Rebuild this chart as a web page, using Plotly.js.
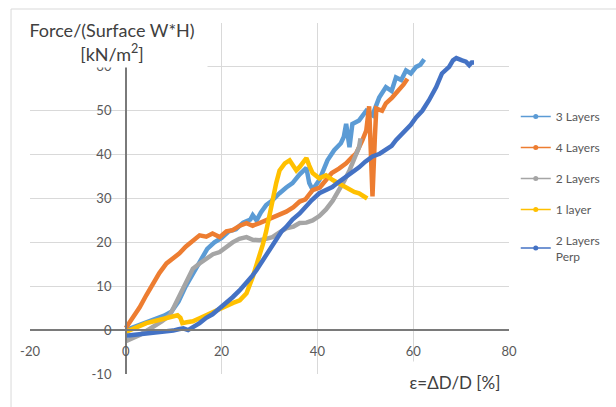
<!DOCTYPE html>
<html>
<head>
<meta charset="utf-8">
<script src="https://cdn.plot.ly/plotly-3.0.1.min.js"></script>
<style>html,body{margin:0;padding:0;background:#fff;}#chart{width:616px;height:407px;}</style>
</head>
<body>
<div id="chart"></div>
<script>
// ---- data ----
const seriesNames = ["3 Layers", "4 Layers", "2 Layers", "1 layer", "2 Layers<br>Perp"];

const x3L = [0, 2, 4, 6, 8, 9.5, 11, 12.5, 14, 15.5, 17, 18.5, 20, 21.5, 23, 24.5, 26, 26.5, 27.3, 28.2, 29.3, 30.5, 31.4, 32.1, 33.5, 34.8, 36.3, 37.7, 38.3, 39, 40.4, 41.2, 42.1, 43.5, 44.9, 45.5, 46, 46.7, 47.3, 48.7, 50.2, 51.5, 52.9, 54.3, 55.5, 56.4, 57.5, 58.5, 59.5, 60.6, 61.5, 62.3];
const y3L = [0, 0.8, 1.6, 2.5, 3.3, 4.2, 6.5, 10, 13, 16, 18.5, 20, 21, 22.5, 23, 24.5, 25.2, 26.2, 25, 26.8, 28.5, 29.5, 30.3, 31.2, 32.5, 33.5, 35.5, 37, 33.5, 32, 34.2, 36.5, 38.7, 41, 42.6, 44, 47, 41.7, 47, 47.8, 50, 49, 53, 55.4, 54.5, 57.6, 57, 59.2, 58.5, 60, 60.5, 61.7];

const x4L = [0, 1.5, 2.9, 4.3, 5.7, 7, 8.5, 10, 11.2, 12.5, 14, 15.4, 16.8, 18.1, 19.6, 21, 22.3, 23.8, 25.2, 26.5, 27.9, 29.2, 30.6, 32, 33.5, 35, 36.3, 37.5, 39, 40.5, 41.8, 43, 44.5, 46, 47.3, 48.1, 49.4, 50.2, 50.8, 51.2, 51.5, 52, 52.3, 53.5, 54.3, 55.6, 57, 58, 58.8];
const y4L = [0.5, 2.8, 5.2, 8, 10.6, 13, 15.2, 16.5, 17.5, 19, 20.5, 21.6, 21.3, 22, 21.2, 22.5, 22.8, 23.8, 24.4, 23.8, 24.4, 25, 25.5, 26.2, 27, 28, 29.3, 29.8, 31.9, 32.5, 34.2, 35.8, 36.8, 38, 39.5, 40.3, 43.3, 45.5, 51, 40, 30.5, 44, 50.5, 50, 51.7, 53, 54.7, 56, 57.3];

const x2L = [0, 1.5, 2.9, 4.3, 5.7, 7.5, 9.2, 10.6, 11.5, 12.7, 14, 15.4, 16.8, 18.2, 19.6, 21, 22.3, 23.7, 25.2, 26.5, 27.9, 29.3, 30.6, 32, 33.5, 35, 36.3, 37.7, 39, 40.4, 41.8, 43.2, 44.6, 45.6, 46.7, 47.7, 48.7, 49];
const y2L = [-2.5, -1.8, -1.1, -0.2, 0.7, 2, 3.4, 6.5, 9, 11.5, 14, 15.2, 16.2, 17.3, 17.8, 19, 20, 20.8, 21.2, 20.6, 20.5, 20.8, 21.2, 22.2, 23.2, 23.6, 24.4, 24.5, 25, 26, 27.5, 29.5, 31.9, 34, 36.4, 39, 41.7, 43.7];

const x1L = [0, 2, 4.3, 6.5, 8.5, 10, 10.8, 11.4, 11.8, 12.7, 14, 15.4, 16.8, 18.1, 19.5, 21, 22.4, 23.8, 25.2, 26.5, 27.9, 28.6, 29.3, 29.9, 30.7, 31.4, 32.1, 33.2, 34.2, 35, 35.6, 36.3, 36.9, 37.7, 38.3, 39, 40.4, 41.8, 43.2, 44.3, 45.3, 46.7, 47.7, 48.7, 49.6, 50.4];
const y1L = [-0.4, 0.5, 1.6, 2.2, 2.7, 3.1, 3.4, 2.8, 1.6, 1.8, 2, 2.7, 3.4, 4.1, 4.9, 5.7, 6.2, 6.8, 8.4, 12.1, 16.6, 19.5, 22.5, 26, 30.3, 33.5, 36.4, 38, 38.7, 37.5, 36.4, 37.2, 38, 39.2, 37.5, 35.8, 34.6, 35.3, 34.2, 33.5, 33, 31.9, 31.5, 31.2, 30.5, 30];

const xPerp = [0, 2.9, 5.7, 8, 9.9, 11, 12, 13, 14, 15.4, 16.8, 18.1, 19.6, 21, 22.3, 23.7, 25.2, 26.3, 27.3, 28.4, 29.4, 30.5, 31.5, 32.5, 33.5, 34.8, 36.3, 37.7, 38.8, 40.4, 41.8, 43.1, 44.5, 46, 47.3, 48.7, 50, 51.5, 53, 54.3, 55.5, 56.4, 57.5, 58.5, 59.5, 60.6, 61.9, 63.3, 64, 64.8, 66, 67, 67.5, 68.3, 69, 70.2, 71, 71.7, 72.2, 72.7];
const yPerp = [-1.3, -1, -0.7, -0.4, -0.1, 0.2, 0.4, 0, 0.6, 1.6, 2.8, 3.6, 5, 6.2, 7.5, 9, 10.7, 12.2, 13.7, 15.6, 17.5, 19.4, 21.2, 22.5, 23.5, 25.2, 26.6, 28.5, 29.6, 31.2, 31.8, 32.6, 33.8, 34.9, 36, 37.1, 38.4, 39.6, 40.2, 41, 42, 43.3, 44.5, 45.6, 46.8, 48.5, 50, 52.4, 53.8, 55.4, 58.5, 59.5, 60, 61.5, 62, 61.5, 61.2, 60.4, 61, 61];

const xTickVals = [-20, 0, 20, 40, 60, 80];
const xTickText = ["-20", "0", "20", "40", "60", "80"];
const yTickVals = [-10, 0, 10, 20, 30, 40, 50, 60, 70];
const yTickText = ["-10", "0", "10", "20", "30", "40", "50", "60", ""];

const xTitle = "ε=ΔD/D [%]";
const yTitle = "Force/(Surface W*H)<br>[kN/m<sup>2</sup>]";

// ---- styles ----
const colors = ["#5B9BD5", "#ED7D31", "#A5A5A5", "#FFC000", "#4472C4"];
const xs = [x3L, x4L, x2L, x1L, xPerp];
const ys = [y3L, y4L, y2L, y1L, yPerp];
const FONT = "Lato, 'Liberation Sans', sans-serif";

const traces = [];
for (let i = 0; i < xs.length; i++) {
  traces.push({
    type: "scatter", mode: "lines", x: xs[i], y: ys[i],
    name: seriesNames[i], legendgroup: "g" + i, showlegend: false,
    line: {color: colors[i], width: 4.5}, hoverinfo: "x+y+name"
  });
}
for (let i = 0; i < xs.length; i++) {
  traces.push({
    type: "scatter", mode: "lines+markers", x: [null], y: [null],
    name: seriesNames[i], legendgroup: "g" + i, showlegend: true,
    line: {color: colors[i], width: 1.5}, marker: {color: colors[i], size: 5}
  });
}

const xMin = -20, xMax = 80, yMin = -10, yMax = 70;

const layout = {
  width: 616, height: 407,
  margin: {l: 30, r: 106, t: 23, b: 33, pad: 0},
  paper_bgcolor: "#ffffff", plot_bgcolor: "#ffffff",
  font: {family: FONT, color: "#595959", size: 13},
  showlegend: true,
  xaxis: {
    range: [xMin, xMax], tickvals: xTickVals, ticktext: xTickText,
    showgrid: true, gridcolor: "#d9d9d9", gridwidth: 1,
    zeroline: false, showline: true, linecolor: "#7a7a7a", linewidth: 1.5,
    anchor: "free", position: (0 - yMin) / (yMax - yMin),
    ticks: "outside", ticklen: 10, tickcolor: "rgba(0,0,0,0)",
    tickfont: {family: FONT, size: 13, color: "#595959"},
    fixedrange: true
  },
  yaxis: {
    range: [yMin, yMax], tickvals: yTickVals, ticktext: yTickText,
    showgrid: true, gridcolor: "#d9d9d9", gridwidth: 1,
    zeroline: false, showline: true, linecolor: "#7a7a7a", linewidth: 1.5,
    anchor: "free", position: (0 - xMin) / (xMax - xMin),
    ticks: "outside", ticklen: 11, tickcolor: "rgba(0,0,0,0)",
    tickfont: {family: FONT, size: 13, color: "#595959"},
    fixedrange: true
  },
  legend: {
    x: 1.012, xanchor: "left", y: 0.775, yanchor: "top",
    traceorder: "grouped", tracegroupgap: 12,
    font: {family: FONT, size: 12, color: "#595959"},
    bgcolor: "rgba(0,0,0,0)", itemclick: false, itemdoubleclick: false
  },
  annotations: [
    {
      text: yTitle, xref: "paper", yref: "paper",
      x: (112 - 30) / 480, y: (374 - 42) / 351, xanchor: "center", yanchor: "middle",
      showarrow: false, align: "center", width: 188, height: 48, borderpad: 1,
      bgcolor: "#ffffff", font: {family: FONT, size: 18, color: "#404040"}
    },
    {
      text: xTitle, xref: "paper", yref: "paper",
      x: (456 - 30) / 480, y: (374 - 382) / 351, xanchor: "center", yanchor: "middle",
      showarrow: false, align: "center", width: 112, height: 38, borderpad: 1,
      bgcolor: "#ffffff", font: {family: FONT, size: 17, color: "#404040"}
    }
  ],
  shapes: [
    {type: "line", xref: "paper", yref: "paper", x0: (11 - 30) / 480, x1: (11 - 30) / 480,
     y0: (374 - 9) / 351, y1: (374 - 412) / 351, line: {color: "#d9d9d9", width: 1}},
    {type: "line", xref: "paper", yref: "paper", x0: (11 - 30) / 480, x1: (620 - 30) / 480,
     y0: (374 - 9) / 351, y1: (374 - 9) / 351, line: {color: "#d9d9d9", width: 1}}
  ]
};

Plotly.newPlot("chart", traces, layout, {displayModeBar: false, staticPlot: false, responsive: false});
</script>
</body>
</html>
